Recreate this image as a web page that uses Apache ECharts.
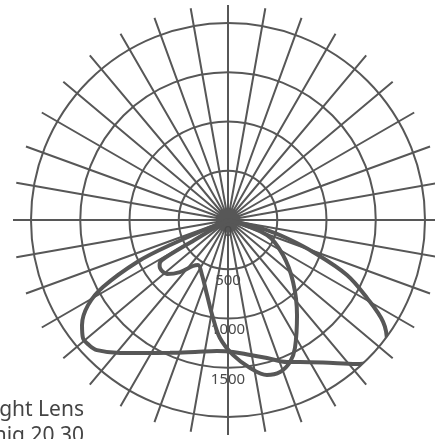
<!DOCTYPE html>
<html><head><meta charset="utf-8">
<script src="https://cdn.jsdelivr.net/npm/echarts@6/dist/echarts.min.js"></script>
<style>html,body{margin:0;padding:0;background:#fff}#c{width:435px;height:439px}</style>
</head><body><div id="c"></div>
<script>
// radial scale (cd) and labels
const radiusMax = 2000;
const radiusInterval = 500;
const labelLines = ['ght Lens', 'nig 20 30'];
// Curve A: angle from nadir (degrees, + towards the right), intensity in cd
const curveAAngles = [-67, -66.6, -65.2, -61.8, -58.7, -54.3, -50.9, -48, -45.2, -39.1, -32, -23.6, -14, -4.8, 2.2, 9.3, 15.8, 22.6, 26.9, 36.3, 42.5, 48.2, 52.5, 56.7, 60.7, 65.2, 69.4, 72.5, 75.5, 76.5];
const curveAValues = [0, 640, 1015, 1440, 1663, 1825, 1898, 1898, 1874, 1739, 1592, 1472, 1381, 1335, 1340, 1389, 1456, 1561, 1616, 1801, 1983, 2071, 2034, 1884, 1618, 1330, 922, 650, 400, 0];
// Curve B
const curveBAngles = [-60, -59.2, -58.8, -56.8, -54.8, -51.6, -48.5, -42.7, -37.3, -33.7, -25.3, -15.6, -8.7, -3.9, 2.1, 8.5, 14.1, 18.9, 23.6, 27.6, 36, 46.4, 57.5, 69, 70];
const curveBValues = [0, 400, 784, 830, 845, 845, 827, 719, 587, 549, 618, 791, 1006, 1201, 1371, 1519, 1623, 1631, 1573, 1467, 1192, 912, 662, 424, 0];

const GRAY = '#575757';
const center = [228, 220];
const toData = (angs, vals) => angs.map((a, i) => [vals[i], a]);

const chart = echarts.init(document.getElementById('c'), null, {renderer: 'canvas'});
chart.setOption({
  animation: false,
  backgroundColor: '#fff',
  polar: [
    {center: center, radius: 215},
    {center: center, radius: 197}
  ],
  angleAxis: [
    {polarIndex: 0, type: 'value', min: 0, max: 360, interval: 10, startAngle: 90,
     axisLine: {show: false}, axisTick: {show: false}, axisLabel: {show: false},
     splitLine: {show: true, lineStyle: {color: GRAY, width: 2}}},
    {polarIndex: 1, type: 'value', min: 0, max: 360, startAngle: 270, clockwise: false,
     axisLine: {show: false}, axisTick: {show: false}, axisLabel: {show: false},
     splitLine: {show: false}}
  ],
  radiusAxis: [
    {polarIndex: 0, type: 'value', min: 0, max: 1, show: false,
     axisLine: {show: false}, axisTick: {show: false}, axisLabel: {show: false}, splitLine: {show: false}},
    {polarIndex: 1, type: 'value', min: 0, max: radiusMax, interval: radiusInterval,
     axisLine: {show: false}, axisTick: {show: false},
     splitLine: {show: true, lineStyle: {color: GRAY, width: 2}},
     axisLabel: {show: true, showMaxLabel: false, margin: 0, align: 'center', verticalAlign: 'top',
       formatter: v => String(v),
       lineHeight: 23, fontSize: 15, color: '#4a4a4a', fontFamily: 'Noto Sans'}}
  ],
  series: [
    {type: 'line', coordinateSystem: 'polar', polarIndex: 1, data: toData(curveAAngles, curveAValues),
     smooth: 0.35, symbol: 'none', clip: false, lineStyle: {color: GRAY, width: 4}},
    {type: 'line', coordinateSystem: 'polar', polarIndex: 1, data: toData(curveBAngles, curveBValues),
     smooth: 0.35, symbol: 'none', clip: false, lineStyle: {color: GRAY, width: 4}}
  ],
  graphic: [
    {type: 'text', x: 84, y: 397, style: {text: labelLines.join('\n'), align: 'right', verticalAlign: 'top',
      font: '21px "Noto Sans"', lineHeight: 26, fill: '#444'}}
  ]
});
</script></body></html>
